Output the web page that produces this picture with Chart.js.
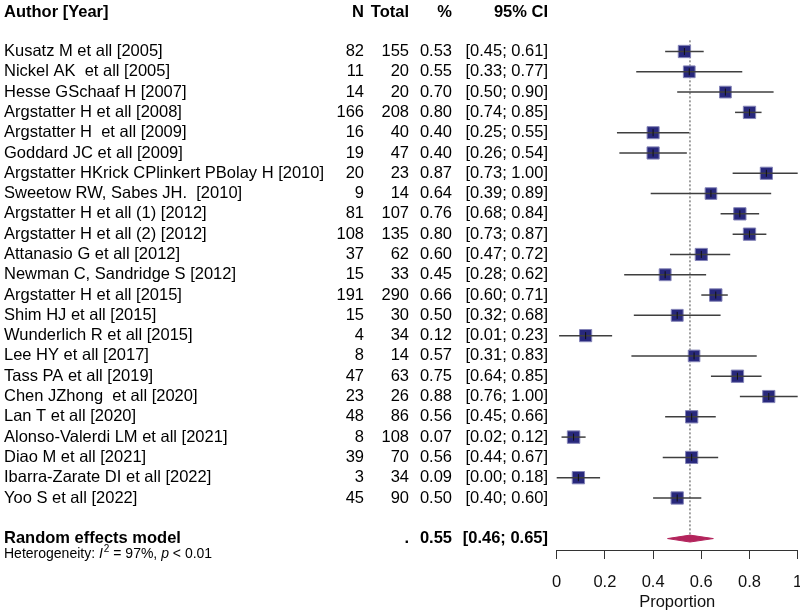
<!DOCTYPE html>
<html><head><meta charset="utf-8">
<script src="https://cdn.jsdelivr.net/npm/chart.js@4/dist/chart.umd.min.js"></script>
<style>html,body{margin:0;padding:0;background:#fff;} #wrap{width:800px;height:614px;}</style>
</head><body><div id="wrap"><canvas id="c" width="800" height="614"></canvas></div>
<script>
const studies = [
  "Kusatz M et all [2005]", "Nickel AK  et all [2005]", "Hesse GSchaaf H [2007]",
  "Argstatter H et all [2008]", "Argstatter H  et all [2009]", "Goddard JC et all [2009]",
  "Argstatter HKrick CPlinkert PBolay H [2010]", "Sweetow RW, Sabes JH.  [2010]",
  "Argstatter H et all (1) [2012]", "Argstatter H et all (2) [2012]", "Attanasio G et all [2012]",
  "Newman C, Sandridge S [2012]", "Argstatter H et all [2015]", "Shim HJ et all [2015]",
  "Wunderlich R et all [2015]", "Lee HY et all [2017]", "Tass PA et all [2019]",
  "Chen JZhong  et all [2020]", "Lan T et all [2020]", "Alonso-Valerdi LM et all [2021]",
  "Diao M et all [2021]", "Ibarra-Zarate DI et all [2022]", "Yoo S et all [2022]"
];
const events = [82, 11, 14, 166, 16, 19, 20, 9, 81, 108, 37, 15, 191, 15, 4, 8, 47, 23, 48, 8, 39, 3, 45];
const totals = [155, 20, 20, 208, 40, 47, 23, 14, 107, 135, 62, 33, 290, 30, 34, 14, 63, 26, 86, 108, 70, 34, 90];
const proportions = [0.53, 0.55, 0.70, 0.80, 0.40, 0.40, 0.87, 0.64, 0.76, 0.80, 0.60, 0.45, 0.66, 0.50, 0.12, 0.57, 0.75, 0.88, 0.56, 0.07, 0.56, 0.09, 0.50];
const ciLower = [0.45, 0.33, 0.50, 0.74, 0.25, 0.26, 0.73, 0.39, 0.68, 0.73, 0.47, 0.28, 0.60, 0.32, 0.01, 0.31, 0.64, 0.76, 0.45, 0.02, 0.44, 0.00, 0.40];
const ciUpper = [0.61, 0.77, 0.90, 0.85, 0.55, 0.54, 1.00, 0.89, 0.84, 0.87, 0.72, 0.62, 0.71, 0.68, 0.23, 0.83, 0.85, 1.00, 0.66, 0.12, 0.67, 0.18, 0.60];
const weights = [4.5, 4.1, 4.1, 4.5, 4.3, 4.4, 4.4, 4.0, 4.5, 4.5, 4.4, 4.2, 4.6, 4.2, 4.4, 4.0, 4.5, 4.4, 4.5, 4.6, 4.4, 4.5, 4.5];
const pooledEstimate = 0.553;
const pooledLower = 0.46;
const pooledUpper = 0.65;
const heterogeneityI2 = "97%";
const heterogeneityP = "0.01";
const xTicks = [0, 0.2, 0.4, 0.6, 0.8, 1];
const headers = ["Author [Year]", "N", "Total", "%", "95% CI"];

const FONT = '"Liberation Sans", Arial, Helvetica, sans-serif';
const rowOf = i => i + 1;
const pooledRow = studies.length + 2;

const datasets = [];
// reference dotted line
datasets.push({
  data: [{x: pooledEstimate, y: 0.45}, {x: pooledEstimate, y: pooledRow}],
  showLine: true, pointRadius: 0, borderColor: '#444', borderWidth: 1, borderDash: [2, 2],
  order: 10, clip: false
});
// CI lines
studies.forEach((s, i) => {
  datasets.push({
    data: [{x: ciLower[i], y: rowOf(i)}, {x: ciUpper[i], y: rowOf(i)}],
    showLine: true, pointRadius: 0, borderColor: '#3f3f3f', borderWidth: 1.5,
    order: 2, clip: false
  });
});
// squares
datasets.push({
  data: proportions.map((p, i) => ({x: p, y: rowOf(i)})),
  pointStyle: 'rect',
  pointRadius: weights.map(w => 5.8 * Math.sqrt(w) / Math.SQRT2),
  backgroundColor: '#28287C', borderColor: '#8585B8', borderWidth: 1,
  order: 3, clip: false
});
// estimate ticks
datasets.push({
  data: proportions.map((p, i) => ({x: p, y: rowOf(i)})),
  pointStyle: 'line', rotation: 90, pointRadius: 3.5,
  borderColor: '#111', borderWidth: 1,
  order: 1, clip: false
});
// diamond
datasets.push({
  data: [
    {x: pooledLower, y: pooledRow}, {x: pooledEstimate, y: pooledRow - 0.17},
    {x: pooledUpper, y: pooledRow}, {x: pooledEstimate, y: pooledRow + 0.17},
    {x: pooledLower, y: pooledRow}
  ],
  showLine: true, pointRadius: 0, tension: 0, fill: 'shape',
  backgroundColor: '#B3245C', borderColor: '#B3245C', borderWidth: 1,
  order: 4, clip: false
});

const textPlugin = {
  id: 'forestText',
  afterDraw(chart) {
    const ctx = chart.ctx;
    const ys = chart.scales.y;
    const colN = 364, colTotal = 409, colPct = 452, colCI = 548, colAuthor = 4;
    ctx.save();
    ctx.fillStyle = '#000';
    ctx.textBaseline = 'middle';
    // header
    let y = ys.getPixelForValue(-0.9);
    ctx.font = 'bold 16.5px ' + FONT;
    ctx.textAlign = 'left';
    ctx.fillText(headers[0], colAuthor, y);
    ctx.textAlign = 'right';
    ctx.fillText(headers[1], colN, y);
    ctx.fillText(headers[2], colTotal, y);
    ctx.fillText(headers[3], colPct, y);
    ctx.fillText(headers[4], colCI, y);
    // rows
    ctx.font = '16.5px ' + FONT;
    studies.forEach((s, i) => {
      const yy = ys.getPixelForValue(rowOf(i));
      ctx.textAlign = 'left';
      ctx.fillText(s, colAuthor, yy);
      ctx.textAlign = 'right';
      ctx.fillText(String(events[i]), colN, yy);
      ctx.fillText(String(totals[i]), colTotal, yy);
      ctx.fillText(proportions[i].toFixed(2), colPct, yy);
      ctx.fillText('[' + ciLower[i].toFixed(2) + '; ' + ciUpper[i].toFixed(2) + ']', colCI, yy);
    });
    // pooled
    y = ys.getPixelForValue(pooledRow);
    ctx.font = 'bold 16.5px ' + FONT;
    ctx.textAlign = 'left';
    ctx.fillText('Random effects model', colAuthor, y);
    ctx.textAlign = 'right';
    ctx.fillText('.', colTotal, y);
    ctx.fillText(pooledEstimate.toFixed(2), colPct, y);
    ctx.fillText('[' + pooledLower.toFixed(2) + '; ' + pooledUpper.toFixed(2) + ']', colCI, y);
    // heterogeneity
    y = ys.getPixelForValue(pooledRow + 0.78);
    ctx.textAlign = 'left';
    let x = colAuthor;
    const parts = [
      ['14px ', 'Heterogeneity: ', 0],
      ['italic 14px ', 'I', 0],
      ['10px ', '2', -5],
      ['14px ', ' = ' + heterogeneityI2 + ', ', 0],
      ['italic 14px ', 'p', 0],
      ['14px ', ' < ' + heterogeneityP, 0]
    ];
    parts.forEach(([f, t, dy]) => {
      ctx.font = f + FONT;
      ctx.fillText(t, x, y + dy);
      x += ctx.measureText(t).width + (t === 'I' ? 1 : 0);
    });
    ctx.restore();
  }
};

new Chart(document.getElementById('c'), {
  type: 'scatter',
  data: { datasets },
  options: {
    responsive: false, animation: false,
    layout: { autoPadding: false, padding: { left: 556.7, right: 2.3, top: 0, bottom: 0 } },
    plugins: { legend: { display: false }, tooltip: { enabled: false } },
    scales: {
      x: {
        type: 'linear', position: 'bottom', min: 0, max: 1,
        afterBuildTicks: s => { s.ticks = xTicks.map(v => ({value: v})); },
        afterFit: s => { s.height = 64; s.paddingLeft = 0; s.paddingRight = 0; },
        ticks: {
          font: { size: 16.5, family: FONT }, color: '#111', padding: 14,
          maxRotation: 0, autoSkip: false,
          callback: v => String(+v.toFixed(1))
        },
        grid: { display: true, drawOnChartArea: false, drawTicks: true, tickLength: 9, color: '#333', lineWidth: 1 },
        border: { display: true, color: '#333', width: 1 },
        title: { display: true, text: 'Proportion', font: { size: 16.5, family: FONT }, color: '#111', padding: { top: 0, bottom: 2 } }
      },
      y: { type: 'linear', display: false, reverse: true, min: -1.5376, max: 25.563 }
    }
  },
  plugins: [textPlugin]
});
</script>
</body></html>
